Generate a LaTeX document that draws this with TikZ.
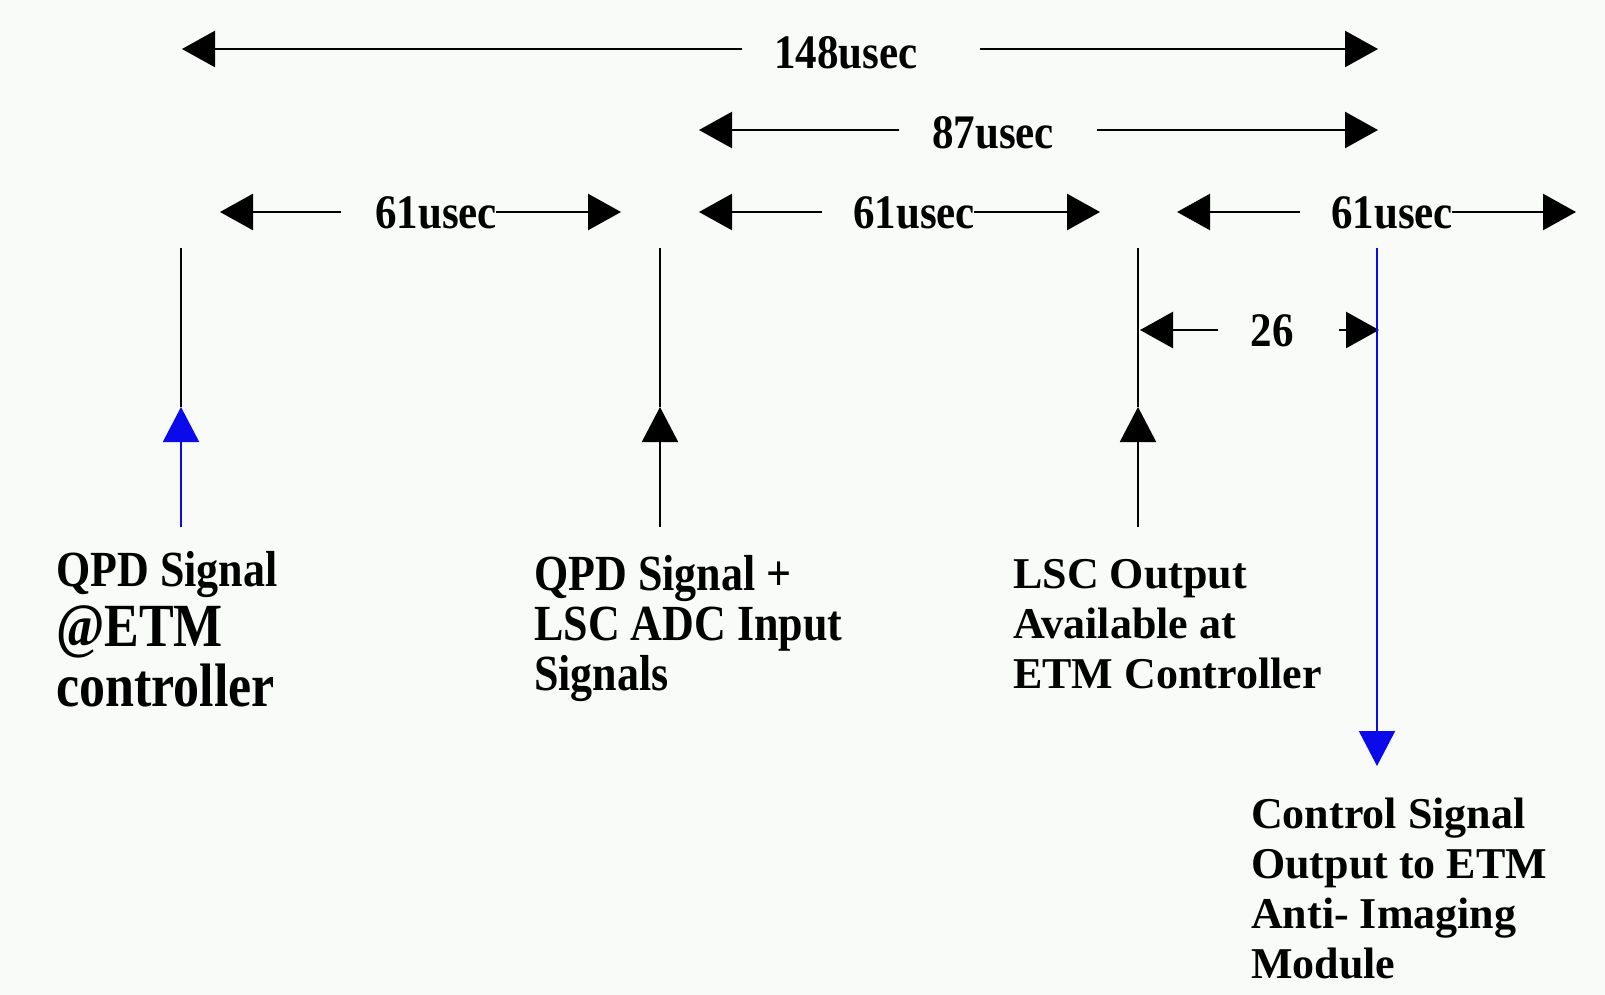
\documentclass[tikz,border=0pt]{standalone}
\usepackage{fontspec}
\setmainfont{Liberation Serif}
\usetikzlibrary{arrows.meta}
\definecolor{bgc}{RGB}{248,251,248}
\definecolor{sigblue}{RGB}{10,10,235}
\begin{document}
\begin{tikzpicture}[x=1pt,y=-1pt,
  dim/.style={line width=2.5pt,-{Triangle[length=33pt,width=36pt]}},
  vline/.style={line width=2pt},
  vtip/.style={line width=2pt,-{Triangle[length=35pt,width=36pt]}},
  num/.style={font=\fontsize{43}{48}\selectfont\bfseries,inner sep=0pt},
  lab/.style={font=\fontsize{44}{50}\selectfont\bfseries,inner sep=0pt,anchor=base west,align=left},
]
\fill[bgc] (0,0) rectangle (1605,995);
\useasboundingbox (0,0) rectangle (1605,995);

% ---- 148usec ----
\node[num] (t148) at (846,53) {\scalebox{1}[1.12]{148usec}};
\coordinate (s148L) at (742,49);
\coordinate (s148R) at (980,49);
\coordinate (e148L) at (182,49);
\coordinate (e148R) at (1378,49);
\draw[dim] (s148L) -- (e148L);
\draw[dim] (s148R) -- (e148R);

% ---- 87usec ----
\node[num] (t87) at (993,133) {\scalebox{1}[1.12]{87usec}};
\coordinate (s87L) at (899,130);
\coordinate (s87R) at (1097,130);
\coordinate (e87L) at (699,130);
\coordinate (e87R) at (1378,130);
\draw[dim] (s87L) -- (e87L);
\draw[dim] (s87R) -- (e87R);

% ---- 61usec (1) ----
\node[num] (t61a) at (436,213) {\scalebox{1}[1.12]{61usec}};
\coordinate (s61aL) at (341,212);
\coordinate (s61aR) at (496,212);
\coordinate (e61aL) at (220,212);
\coordinate (e61aR) at (621,212);
\draw[dim] (s61aL) -- (e61aL);
\draw[dim] (s61aR) -- (e61aR);

% ---- 61usec (2) ----
\node[num] (t61b) at (914,213) {\scalebox{1}[1.12]{61usec}};
\coordinate (s61bL) at (822,212);
\coordinate (s61bR) at (974,212);
\coordinate (e61bL) at (699,212);
\coordinate (e61bR) at (1100,212);
\draw[dim] (s61bL) -- (e61bL);
\draw[dim] (s61bR) -- (e61bR);

% ---- 61usec (3) ----
\node[num] (t61c) at (1392,213) {\scalebox{1}[1.12]{61usec}};
\coordinate (s61cL) at (1300,212);
\coordinate (s61cR) at (1452,212);
\coordinate (e61cL) at (1177,212);
\coordinate (e61cR) at (1576,212);
\draw[dim] (s61cL) -- (e61cL);
\draw[dim] (s61cR) -- (e61cR);

% ---- 26 ----
\node[num] (t26) at (1272,331) {\scalebox{1}[1.12]{26}};
\coordinate (s26L) at (1218,330);
\coordinate (s26R) at (1339,330);
\coordinate (e26L) at (1140,330);
\coordinate (e26R) at (1379,330);
\draw[dim] (s26L) -- (e26L);
\draw[dim] (s26R) -- (e26R);

% ---- vertical markers ----
\coordinate (v1top) at (181,248);
\coordinate (v1mid) at (181,407);
\coordinate (v1bot) at (181,527);
\draw[vline] (v1mid) -- (v1top);
\draw[vtip,sigblue] (v1bot) -- (v1mid);

\coordinate (v2top) at (660,248);
\coordinate (v2mid) at (660,407);
\coordinate (v2bot) at (660,527);
\draw[vline] (v2mid) -- (v2top);
\draw[vtip] (v2bot) -- (v2mid);

\coordinate (v3top) at (1138,248);
\coordinate (v3mid) at (1138,407);
\coordinate (v3bot) at (1138,527);
\draw[vline] (v3mid) -- (v3top);
\draw[vtip] (v3bot) -- (v3mid);

\coordinate (v4top) at (1377,248);
\coordinate (v4bot) at (1377,766);
\draw[vtip,sigblue] (v4top) -- (v4bot);

% ---- labels (anchored at the baseline of the last line) ----
\node[lab,font=\fontsize{52}{60}\selectfont\bfseries] (lab1) at (56,706)
  {{\fontsize{44}{62}\selectfont\scalebox{1}[1.15]{QPD Signal}}\\
   \scalebox{1}[1.18]{@ETM}\\
   \scalebox{1}[1.18]{controller}};
\node[lab] (lab2) at (534,690)
  {\scalebox{1}[1.15]{QPD Signal +}\\
   \scalebox{1}[1.15]{LSC ADC Input}\\
   \scalebox{1}[1.15]{Signals}};
\node[lab] (lab3) at (1013,688)
  {LSC Output\\Available at\\ETM Controller};
\node[lab] (lab4) at (1251,978)
  {Control Signal\\Output to ETM\\Anti- Imaging\\Module};
\end{tikzpicture}
\end{document}
